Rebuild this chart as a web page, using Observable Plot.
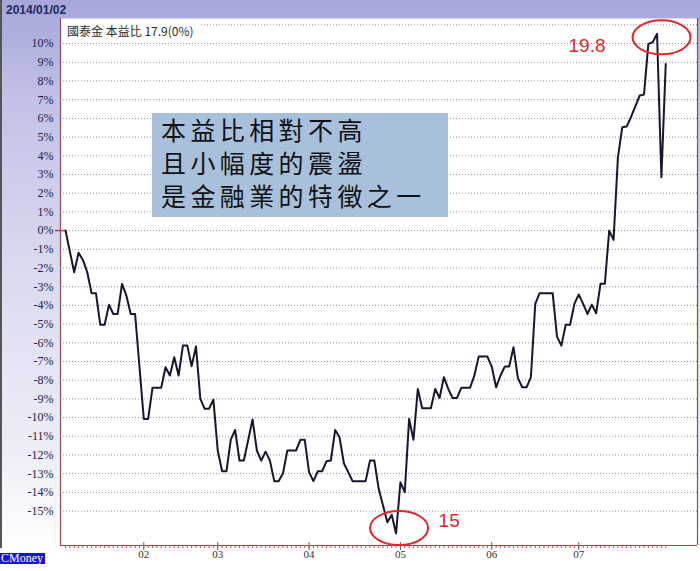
<!DOCTYPE html>
<html>
<head>
<meta charset="utf-8">
<script src="https://cdn.jsdelivr.net/npm/d3@7"></script>
<script src="https://cdn.jsdelivr.net/npm/@observablehq/plot@0.6"></script>
<style>
  body { margin: 0; }
  #wrap {
    position: relative; width: 700px; height: 571px; overflow: hidden;
    background: linear-gradient(to bottom, #a6a6da 0%, #c2c2e8 18%, #dcdcf1 50%, #eeeef8 80%, #ffffff 96%);
  }
  #edge { position: absolute; left: 0; top: 0; width: 2px; height: 548px; background: #555; }
  #chart { position: absolute; left: 0; top: 0; }
  #date { position: absolute; left: 6px; top: 3px; font: bold 12px "Liberation Sans", Arial, sans-serif; color: #1e2a62; }
  #legend { position: absolute; left: 62px; top: 21px; padding: 2px 6px 1px 5px; background: #fff;
    font: 12px "Noto Sans CJK TC", sans-serif; color: #2a2a2a; white-space: pre; line-height: 16px; }
  #note { position: absolute; left: 152px; top: 113px; width: 296px; height: 104px; background: #a8c0dc;
    font: 25px "Noto Sans CJK TC", sans-serif; color: #111; line-height: 33px; letter-spacing: 4.4px;
    padding-left: 9px; box-sizing: border-box; white-space: pre; }
  #cmoney { position: absolute; left: 0; top: 553px; height: 11px; padding: 0 2px 0 1px; background: #1414d8;
    color: #fff; font: 12px "Liberation Serif", serif; line-height: 11px; }
</style>
</head>
<body>
<div id="wrap">
  <div id="edge"></div>
  <div id="chart"></div>
  <div id="date"></div>
  <div id="legend"></div>
  <div id="note"></div>
  <div id="cmoney"></div>
</div>
<script>
// ---- data ----
const headerDate = "2014/01/02";
const legendText = "國泰金 本益比 17.9(0%)";
const noteLines = ["本益比相對不高", "且小幅度的震盪", "是金融業的特徵之一"];
const sourceLabel = "CMoney";

// trading-day index since 2014/01/02
const days = [0,2,3,4,5,6,7,8,9,10,11,12,13,14,15,16,18,19,20,22,23,24,25,26,27,28,29,30,31,32,33,34,35,36,37,38,39,40,41,43,44,45,46,47,48,49,50,51,53,54,55,56,57,58,59,60,61,62,63,64,66,69,70,71,72,74,75,76,77,78,79,80,81,82,84,85,86,87,88,89,90,91,93,94,95,97,98,99,100,101,102,103,104,105,106,107,108,109,112,113,114,115,116,117,118,119,120,121,122,123,124,125,126,127,128,129,130,132,133,134,135,136,137,138];
// P/E change vs. 2014/01/02, in %
const pePct = [0,-2.23,-1.19,-1.57,-2.23,-3.35,-3.35,-5.04,-5.04,-3.97,-4.46,-4.46,-2.85,-3.48,-4.46,-4.46,-10.07,-10.07,-8.41,-8.41,-7.31,-7.75,-6.77,-7.75,-6.15,-6.15,-7.25,-6.2,-9.0,-9.53,-9.53,-9.04,-11.76,-12.87,-12.87,-11.18,-10.66,-12.3,-12.3,-10.1,-11.76,-12.3,-11.82,-12.3,-13.4,-13.4,-12.98,-11.76,-11.76,-11.19,-11.19,-12.92,-13.4,-12.87,-12.87,-12.34,-12.3,-10.66,-11.05,-12.44,-13.4,-13.4,-12.3,-12.3,-13.81,-15.6,-15.2,-16.2,-13.46,-13.99,-10.07,-11.19,-8.47,-9.5,-9.5,-8.47,-8.95,-7.84,-8.47,-8.95,-8.95,-8.41,-8.41,-7.75,-6.74,-6.74,-7.27,-8.38,-7.75,-7.27,-7.27,-6.24,-7.88,-8.38,-8.38,-7.84,-3.92,-3.35,-3.35,-5.67,-6.15,-5.04,-5.04,-3.92,-3.42,-3.92,-4.46,-3.96,-4.42,-2.85,-2.85,0.0,-0.5,3.9,5.52,5.56,6.06,7.22,7.27,9.98,10.07,10.52,2.85,8.91];

const monthTickDays = [18, 35, 56, 77, 98, 118];
const monthLabels = ["02", "03", "04", "05", "06", "07"];
const yTickValues = d3.range(-15, 11);   // -15% .. 10%
const yGridValues = d3.range(-15, 12);   // -15% .. 11%
const dayTickValues = d3.range(0, 139);

const noteDays = [136, 76];
const notePe = [10.52, -16.2];
const noteLabels = ["19.8", "15"];

// ---- build ----
document.getElementById("date").textContent = headerDate;
document.getElementById("legend").textContent = legendText;
document.getElementById("note").textContent = noteLines.join("\n");
document.getElementById("cmoney").textContent = sourceLabel;

const series = days.map((d, i) => ({day: d, pe: pePct[i]}));
const xDomain = [-1.15, 145.3];
const yDomain = [-16.84, 11.34];
const frameColor = "#a04848";

const chart = Plot.plot({
  width: 700, height: 571,
  marginLeft: 60, marginRight: 3, marginTop: 18, marginBottom: 26,
  x: {domain: xDomain, axis: null, label: null},
  y: {domain: yDomain, axis: null, label: null},
  style: {background: "transparent", overflow: "visible"},
  marks: [
    Plot.frame({fill: "white", stroke: null}),
    Plot.gridY({ticks: yGridValues, stroke: "#8c8c8c", strokeOpacity: 1, strokeDasharray: "1,2"}),
    Plot.ruleX([xDomain[0], xDomain[1]], {stroke: frameColor, strokeWidth: 1.2}),
    Plot.ruleY([yDomain[0]], {stroke: frameColor, strokeWidth: 1.2}),
    Plot.axisY({ticks: yTickValues, tickSize: 0, tickPadding: 7, tickFormat: d => d + "%", label: null,
      fontSize: 12, fontFamily: "Liberation Serif", color: "#1c1c4c"}),
    Plot.axisX({ticks: dayTickValues, tickSize: 3, tickFormat: () => "", label: null, color: "#c05050"}),
    Plot.axisX({ticks: monthTickDays, tickSize: 8, dy: -3, tickFormat: () => "", label: null, color: "#666"}),
    Plot.axisX({ticks: monthTickDays, tickSize: 0, tickPadding: 5, label: null,
      tickFormat: d => monthLabels[monthTickDays.indexOf(d)],
      fontSize: 11, fontFamily: "Liberation Serif", color: "#333"}),
    Plot.ruleY([0], {x1: xDomain[0], x2: days[0], insetLeft: -5, stroke: "#c04040", strokeWidth: 1.5}),
    Plot.line(series, {x: "day", y: "pe", stroke: "#16162e", strokeWidth: 2})
  ]
});
document.getElementById("chart").appendChild(chart);

// red annotations, positioned through the chart's own scales
const sx = chart.scale("x"), sy = chart.scale("y");
const g = d3.select(chart).append("g").attr("text-anchor", "start");
const ellOff = [[5, 4], [3.5, -5]];
const txtOff = [[-88, 19], [43, -6]];
noteDays.forEach((d, i) => {
  const px = sx.apply(d), py = sy.apply(notePe[i]);
  g.append("ellipse").attr("cx", px + ellOff[i][0]).attr("cy", py + ellOff[i][1])
    .attr("rx", 29).attr("ry", 17).attr("fill", "none").attr("stroke", "#e02828").attr("stroke-width", 2);
  g.append("text").attr("x", px + txtOff[i][0]).attr("y", py + txtOff[i][1])
    .attr("text-anchor", "start")
    .attr("font-family", "Liberation Sans, Arial, sans-serif").attr("font-size", 19)
    .attr("fill", "#e02828").text(noteLabels[i]);
});
</script>
</body>
</html>
